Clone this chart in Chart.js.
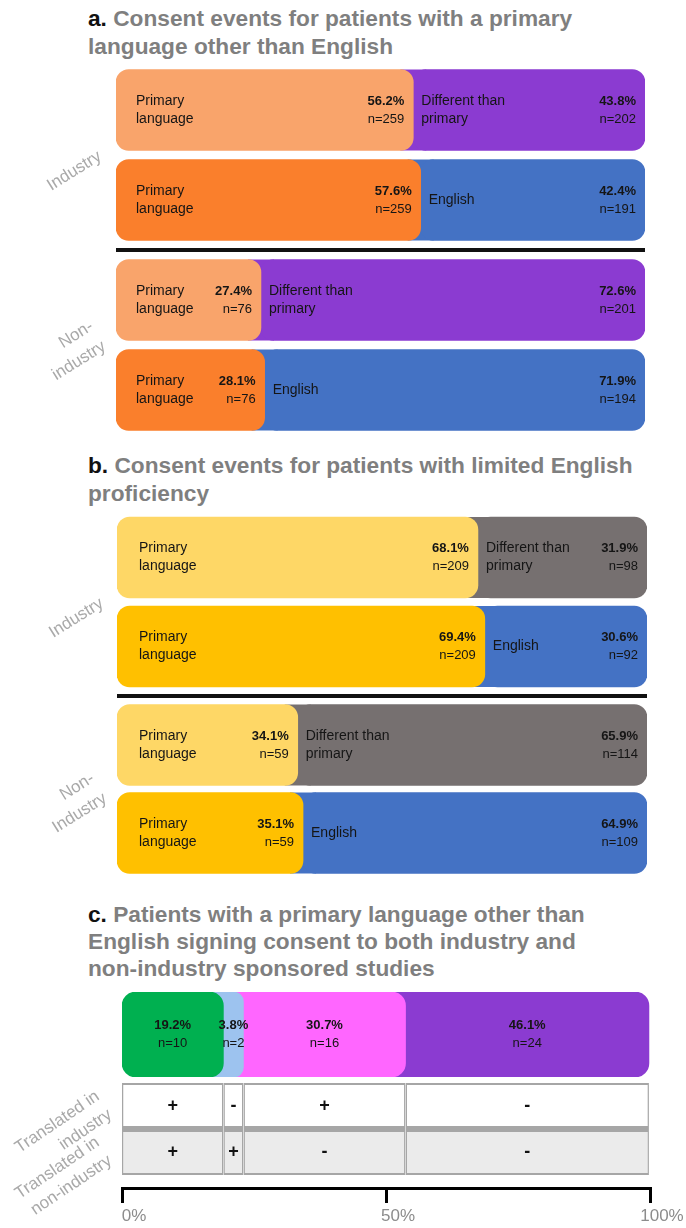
<!DOCTYPE html>
<html>
<head>
<meta charset="utf-8">
<title>Consent language by sponsor type</title>
<script src="https://cdn.jsdelivr.net/npm/chart.js@4.4.1/dist/chart.umd.min.js"></script>
<style>
  html, body { margin: 0; padding: 0; background: #fff; }
  body { width: 686px; height: 1228px; position: relative; overflow: hidden; font-family: "Liberation Sans", Arial, sans-serif; }
  .title { position: absolute; left: 88px; font-size: 22.7px; font-weight: bold; color: #7f7f7f; line-height: 28px; white-space: nowrap; }
  .title b { color: #111; }
  .box { position: absolute; left: 0; width: 686px; }
  .rule { position: absolute; height: 4px; background: #111; }
</style>
</head>
<body>
<div class="title" style="top:4px"><b>a.</b> Consent events for patients with a primary<br>language other than English</div>
<div class="box" style="top:65px;height:180px"><canvas id="a-industry"></canvas></div>
<div class="rule" style="top:248px;left:116px;width:529px"></div>
<div class="box" style="top:255px;height:180px"><canvas id="a-nonindustry"></canvas></div>

<div class="title" style="top:451px"><b>b.</b> Consent events for patients with limited English<br>proficiency</div>
<div class="box" style="top:513px;height:178px"><canvas id="b-industry"></canvas></div>
<div class="rule" style="top:694px;left:117px;width:530px"></div>
<div class="box" style="top:701px;height:176px"><canvas id="b-nonindustry"></canvas></div>

<div class="title" style="top:901px;line-height:27px"><b>c.</b> Patients with a primary language other than<br>English signing consent to both industry and<br>non-industry sponsored studies</div>
<div class="box" style="top:992px;height:85px"><canvas id="c-bar"></canvas></div>
<div class="box" style="top:1083px;height:145px"><canvas id="c-table"></canvas></div>
<div class="box" style="top:1178px;height:50px"><canvas id="c-axis"></canvas></div>

<script>
const FONT = '"Liberation Sans", Arial, sans-serif';
Chart.defaults.font.family = FONT;
Chart.defaults.animation = false;

// a. patients with a primary language other than English
const aRows = ['Primary vs. different', 'Primary vs. English'];
const aGroups = ['Industry', ['Non-', 'industry']];
const aPrimaryPct = [56.2, 57.6, 27.4, 28.1];
const aPrimaryN = [259, 259, 76, 76];
const aOtherPct = [43.8, 42.4, 72.6, 71.9];
const aOtherN = [202, 191, 201, 194];
const aOtherNames = ['Different than\nprimary', 'English', 'Different than\nprimary', 'English'];

// b. patients with limited English proficiency
const bRows = ['Primary vs. different', 'Primary vs. English'];
const bGroups = ['Industry', ['Non-', 'Industry']];
const bPrimaryPct = [68.1, 69.4, 34.1, 35.1];
const bPrimaryN = [209, 209, 59, 59];
const bOtherPct = [31.9, 30.6, 65.9, 64.9];
const bOtherN = [98, 92, 114, 109];
const bOtherNames = ['Different than\nprimary', 'English', 'Different than\nprimary', 'English'];

const primaryName = 'Primary\nlanguage';

// c. patients who signed for both sponsor types
const cGroups = ['Both translated', 'Non-industry only', 'Industry only', 'Neither'];
const cPct = [19.2, 3.8, 30.7, 46.1];
const cN = [10, 2, 16, 24];
const cTableRows = [['Translated in', 'industry'], ['Translated in', 'non-industry']];
const cTranslatedIndustry = ['+', '-', '+', '-'];
const cTranslatedNonIndustry = ['+', '+', '-', '-'];
const axisTicks = [0, 50, 100];

const PEACH = '#f9a46b', ORANGE = '#fa7f2c', PURPLE = '#8b3bd1', BLUE = '#4472c4';
const PALE_GOLD = '#fed766', GOLD = '#ffc000', TAUPE = '#767070';
const cColors = ['#00b050', '#9dc3ef', '#ff66ff', PURPLE];
const LABEL_GREY = '#a9a9a9';

const corners = r => ({ topLeft: r, topRight: r, bottomLeft: r, bottomRight: r });

// rotated side labels must not eat into the plot height
function fixedLeftAxis(width) {
  return s => {
    s.width = width;
    s.paddingTop = 0;
    s.paddingBottom = 0;
  };
}

// paint under each join so the rounded end of one segment sits on the next colour
const joinFill = {
  id: 'joinFill',
  beforeDatasetsDraw(chart, args, opts) {
    const r = opts.radius || 0;
    const { ctx } = chart;
    ctx.save();
    for (let d = chart.data.datasets.length - 1; d >= 1; d--) {
      chart.getDatasetMeta(d).data.forEach(el => {
        const w = Math.abs(el.x - el.base);
        ctx.fillStyle = el.options.backgroundColor;
        ctx.fillRect(el.base - r, el.y - el.height / 2, r + Math.min(r, w / 2), el.height);
      });
    }
    ctx.restore();
  }
};

// name, percentage and count written inside each segment
const segmentText = {
  id: 'segmentText',
  afterDatasetsDraw(chart, args, opts) {
    const { ctx } = chart;
    ctx.save();
    ctx.fillStyle = '#151515';
    ctx.textBaseline = 'middle';
    chart.data.datasets.forEach((ds, d) => {
      chart.getDatasetMeta(d).data.forEach((el, i) => {
        const left = Math.min(el.base, el.x), right = Math.max(el.base, el.x);
        const pct = ds.data[i].toFixed(1) + '%';
        const n = 'n=' + ds.counts[i];
        if (opts.centered) {
          const cx = (left + right) / 2;
          ctx.textAlign = 'center';
          ctx.font = 'bold 13px ' + FONT;
          ctx.fillText(pct, cx, el.y - 9);
          ctx.font = '13px ' + FONT;
          ctx.fillText(n, cx, el.y + 9);
          return;
        }
        const lines = ds.names[i].split('\n');
        const x0 = d === 0 ? left + opts.inset : left + 8;
        ctx.textAlign = 'left';
        ctx.font = '14px ' + FONT;
        lines.forEach((t, k) => ctx.fillText(t, x0, el.y + (k - (lines.length - 1) / 2) * 18));
        ctx.textAlign = 'right';
        ctx.font = 'bold 13px ' + FONT;
        ctx.fillText(pct, right - 9, el.y - 9);
        ctx.font = '13px ' + FONT;
        ctx.fillText(n, right - 9, el.y + 9);
      });
    });
    ctx.restore();
  }
};

// +/- marks in the translation table
const cellSigns = {
  id: 'cellSigns',
  afterDatasetsDraw(chart) {
    const { ctx } = chart;
    ctx.save();
    ctx.font = 'bold 18px ' + FONT;
    ctx.fillStyle = '#111';
    ctx.textAlign = 'center';
    ctx.textBaseline = 'middle';
    chart.data.datasets.forEach((ds, d) => {
      chart.getDatasetMeta(d).data.forEach((el, i) => {
        ctx.fillText(ds.signs[i], (el.x + el.base) / 2, el.y);
      });
    });
    ctx.restore();
  }
};

function consentGroup(canvasId, o) {
  const pick = arr => o.rows.map(i => arr[i]);
  return new Chart(document.getElementById(canvasId), {
    type: 'bar',
    data: {
      labels: o.rowNames,
      datasets: [
        {
          label: 'Primary language',
          data: pick(o.primaryPct),
          counts: pick(o.primaryN),
          names: o.rows.map(() => primaryName),
          backgroundColor: o.primaryColors,
          yAxisID: 'y'
        },
        {
          label: 'Other language',
          data: pick(o.otherPct),
          counts: pick(o.otherN),
          names: pick(o.otherNames),
          backgroundColor: o.otherColors,
          yAxisID: 'y'
        }
      ]
    },
    plugins: [joinFill, segmentText],
    options: {
      indexAxis: 'y',
      responsive: true,
      maintainAspectRatio: false,
      layout: { padding: { left: 0, right: o.right, top: 0, bottom: 0 } },
      datasets: { bar: { barThickness: 81, borderSkipped: false, borderRadius: corners(13) } },
      plugins: {
        legend: { display: false },
        tooltip: { enabled: false },
        joinFill: { radius: 13 },
        segmentText: { inset: o.inset }
      },
      scales: {
        x: { stacked: true, min: 0, max: 100, display: false },
        y: { stacked: true, display: false },
        group: {
          axis: 'y',
          type: 'category',
          position: 'left',
          labels: [o.group],
          offset: true,
          grid: { display: false },
          border: { display: false },
          ticks: {
            minRotation: 32, maxRotation: 32,
            color: LABEL_GREY,
            font: { size: 17, lineHeight: 1.4 },
            padding: o.pad,
            labelOffset: o.shift
          },
          afterFit: fixedLeftAxis(o.left)
        }
      }
    }
  });
}

consentGroup('a-industry', {
  rows: [0, 1], rowNames: aRows, group: aGroups[0],
  primaryPct: aPrimaryPct, primaryN: aPrimaryN, otherPct: aOtherPct, otherN: aOtherN, otherNames: aOtherNames,
  primaryColors: [PEACH, ORANGE], otherColors: [PURPLE, BLUE],
  left: 116, right: 41, inset: 20, pad: 8, shift: 0
});
consentGroup('a-nonindustry', {
  rows: [2, 3], rowNames: aRows, group: aGroups[1],
  primaryPct: aPrimaryPct, primaryN: aPrimaryN, otherPct: aOtherPct, otherN: aOtherN, otherNames: aOtherNames,
  primaryColors: [PEACH, ORANGE], otherColors: [PURPLE, BLUE],
  left: 116, right: 41, inset: 20, pad: 10, shift: -10
});
consentGroup('b-industry', {
  rows: [0, 1], rowNames: bRows, group: bGroups[0],
  primaryPct: bPrimaryPct, primaryN: bPrimaryN, otherPct: bOtherPct, otherN: bOtherN, otherNames: bOtherNames,
  primaryColors: [PALE_GOLD, GOLD], otherColors: [TAUPE, BLUE],
  left: 117, right: 39, inset: 22, pad: 7, shift: 0
});
consentGroup('b-nonindustry', {
  rows: [2, 3], rowNames: bRows, group: bGroups[1],
  primaryPct: bPrimaryPct, primaryN: bPrimaryN, otherPct: bOtherPct, otherN: bOtherN, otherNames: bOtherNames,
  primaryColors: [PALE_GOLD, GOLD], otherColors: [TAUPE, BLUE],
  left: 117, right: 39, inset: 22, pad: 10, shift: -2
});

// c. stacked bar of the four translation patterns
new Chart(document.getElementById('c-bar'), {
  type: 'bar',
  data: {
    labels: ['Patients'],
    datasets: cPct.map((v, i) => ({
      label: cGroups[i],
      data: [v],
      counts: [cN[i]],
      backgroundColor: cColors[i]
    }))
  },
  plugins: [joinFill, segmentText],
  options: {
    indexAxis: 'y',
    responsive: true,
    maintainAspectRatio: false,
    layout: { padding: { left: 122, right: 36, top: 0, bottom: 0 } },
    datasets: { bar: { categoryPercentage: 1, barPercentage: 1, borderSkipped: false, borderRadius: corners(14) } },
    plugins: {
      legend: { display: false },
      tooltip: { enabled: false },
      joinFill: { radius: 14 },
      segmentText: { centered: true }
    },
    scales: {
      x: { stacked: true, min: 0, max: 100, display: false },
      y: { stacked: true, display: false }
    }
  }
});

// c. table of which consent forms were translated
new Chart(document.getElementById('c-table'), {
  type: 'bar',
  data: {
    labels: cTableRows,
    datasets: cPct.map((v, i) => ({
      label: cGroups[i],
      data: [v, v],
      signs: [cTranslatedIndustry[i], cTranslatedNonIndustry[i]],
      backgroundColor: ['#ffffff', '#ebebeb'],
      borderColor: '#a6a6a6',
      borderWidth: ctx => ctx.dataIndex === 0
        ? { top: 2, bottom: 3, left: 1.5, right: 1.5 }
        : { top: 3, bottom: 2, left: 1.5, right: 1.5 }
    }))
  },
  plugins: [cellSigns],
  options: {
    indexAxis: 'y',
    responsive: true,
    maintainAspectRatio: false,
    layout: { padding: { left: 0, right: 36, top: 0, bottom: 53 } },
    datasets: { bar: { categoryPercentage: 1, barPercentage: 1, borderSkipped: false, inflateAmount: 0 } },
    plugins: { legend: { display: false }, tooltip: { enabled: false } },
    scales: {
      x: { stacked: true, min: 0, max: 100, display: false },
      y: {
        stacked: true,
        grid: { display: false },
        border: { display: false },
        ticks: {
          autoSkip: false,
          minRotation: 34, maxRotation: 34,
          color: LABEL_GREY,
          font: { size: 17, lineHeight: 1.3 },
          padding: 10,
          labelOffset: -2
        },
        afterFit: fixedLeftAxis(122)
      }
    }
  }
});

// c. percentage bracket under the table
new Chart(document.getElementById('c-axis'), {
  type: 'scatter',
  data: { datasets: [] },
  options: {
    responsive: true,
    maintainAspectRatio: false,
    layout: { padding: { left: 122, right: 36, top: 0, bottom: 0 } },
    plugins: { legend: { display: false }, tooltip: { enabled: false } },
    scales: {
      x: {
        type: 'linear',
        min: 0,
        max: 100,
        offset: false,
        border: { display: true, color: '#000', width: 3 },
        grid: { offset: false, drawOnChartArea: false, color: '#000', lineWidth: 3, tickLength: 15 },
        ticks: {
          color: '#8c8c8c',
          font: { size: 17 },
          padding: 3,
          labelOffset: 12,
          maxRotation: 0,
          callback: v => v + '%'
        },
        afterBuildTicks: s => { s.ticks = axisTicks.map(v => ({ value: v })); },
        afterFit: s => { s.height = 40; s.paddingLeft = 0; s.paddingRight = 0; }
      },
      y: { display: false }
    }
  }
});
</script>
</body>
</html>
